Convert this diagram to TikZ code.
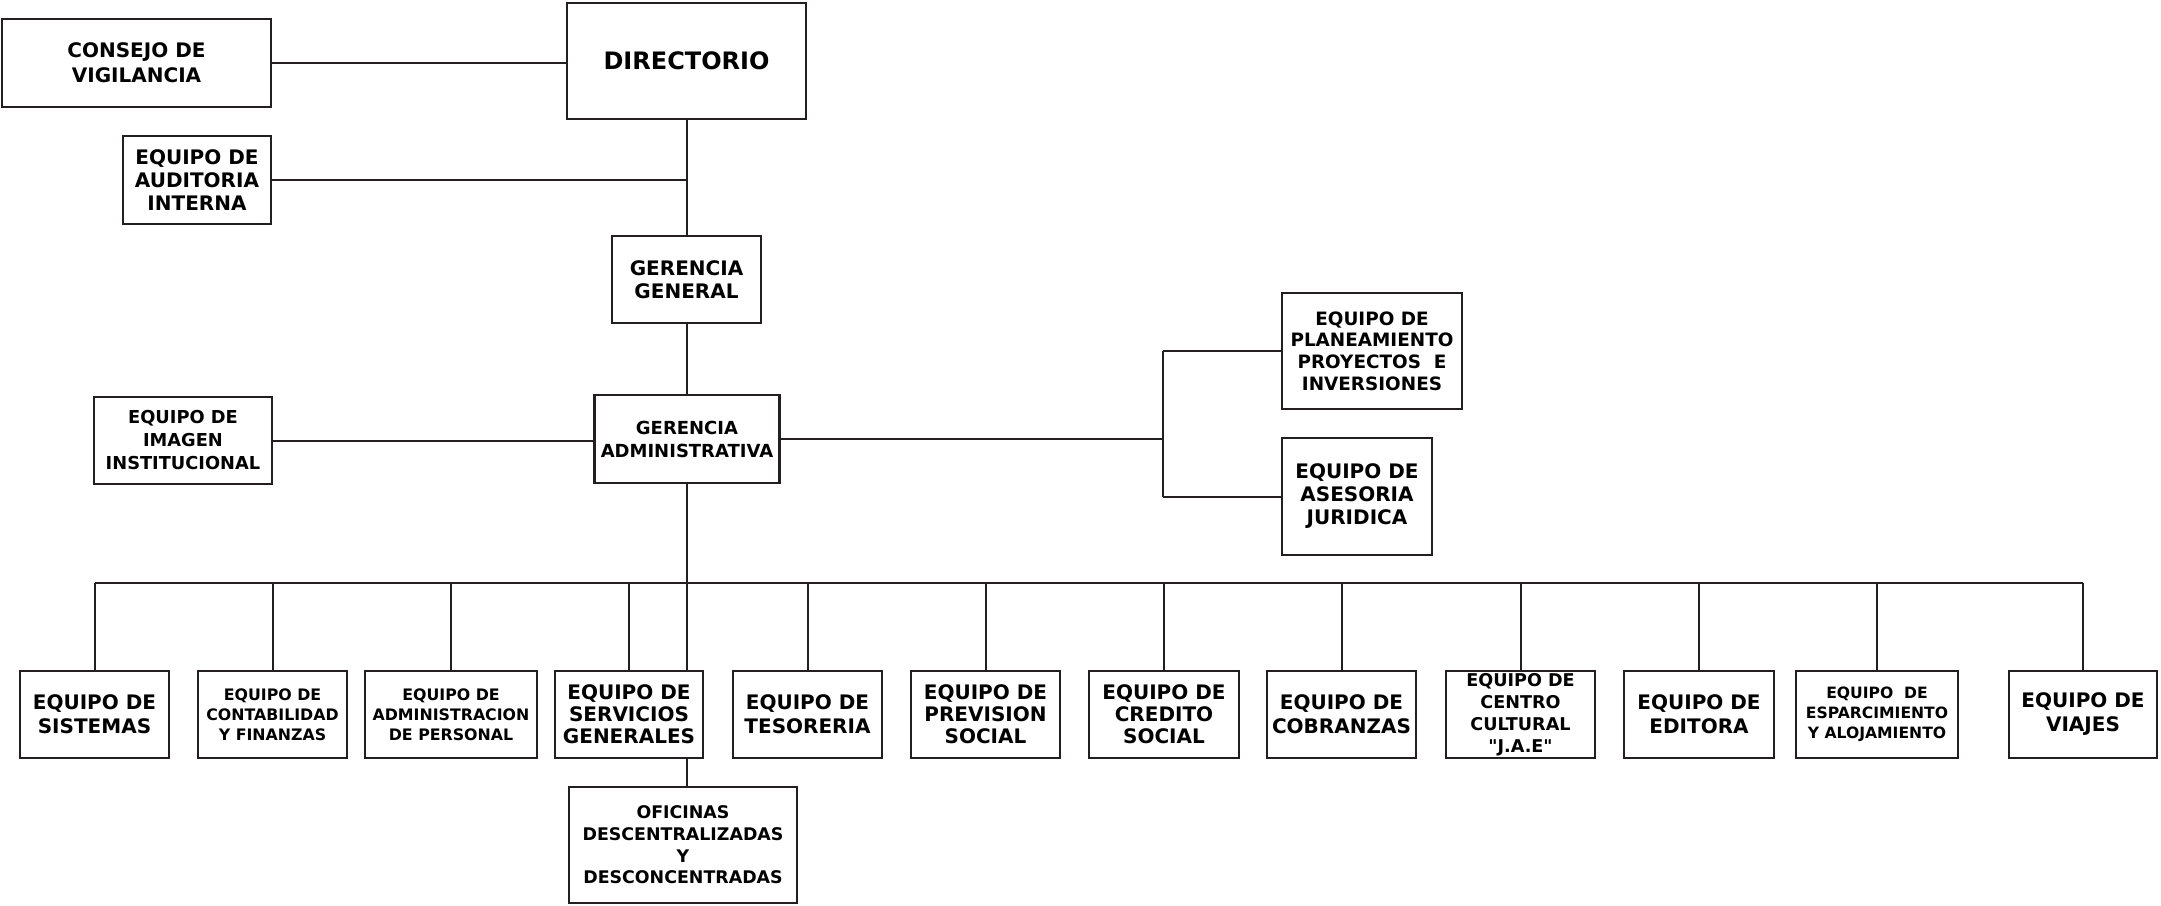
\documentclass[tikz,border=0pt]{standalone}
\usepackage{fontspec}
% plain family: no TeX ligature mapping, so " stays a straight quote
\newfontfamily\orgfont{DejaVu Sans}
\newcommand\fz[2]{\orgfont\bfseries\fontsize{#1}{#2}\selectfont}
\definecolor{ink}{HTML}{231F20}
\begin{document}
\begin{tikzpicture}[x=0.5pt,y=-0.5pt,
  box/.style={draw=ink, line width=1.4pt, inner sep=0pt, align=center, text=black},
  link/.style={draw=ink, line width=1pt}]
\useasboundingbox (0,0) rectangle (2161,905);

% upper levels
\node[box,font=\fz{10}{12.5},minimum width=134.5pt,minimum height=44pt] (consejo) at (136.5,63) {CONSEJO DE\\VIGILANCIA};
\node[box,font=\fz{12}{14},minimum width=119.5pt,minimum height=58pt] (dir) at (686.5,61) {DIRECTORIO};
\node[box,font=\fz{10}{11.5},minimum width=74pt,minimum height=44pt] (audit) at (197,180) {EQUIPO DE\\AUDITORIA\\INTERNA};
\node[box,font=\fz{10}{11.5},minimum width=74.5pt,minimum height=43.5pt] (gg) at (686.5,279.5) {GERENCIA\\GENERAL};
\node[box,font=\fz{8.9}{11.5},minimum width=89pt,minimum height=43.5pt] (imagen) at (183,440.5) {EQUIPO DE\\IMAGEN\\INSTITUCIONAL};
\node[box,font=\fz{9}{11.5},minimum width=92.5pt,minimum height=44pt] (ga) at (687,439) {GERENCIA\\ADMINISTRATIVA};
\node[box,font=\fz{9.2}{10.8},minimum width=90pt,minimum height=58pt] (plan) at (1372,351) {EQUIPO DE\\PLANEAMIENTO\\PROYECTOS\ \ E\\INVERSIONES};
\node[box,font=\fz{10}{11.5},minimum width=75pt,minimum height=58.5pt] (ases) at (1357,496.5) {EQUIPO DE\\ASESORIA\\JURIDICA};

% bottom row
\tikzset{rowbox/.style={box,minimum width=74.5pt,minimum height=43.5pt,font=\fz{10}{11}},
         smallbox/.style={rowbox,font=\fz{7.9}{10}}}
\node[rowbox,font=\fz{10}{12}] (sist) at (94.5,714.5) {EQUIPO DE\\SISTEMAS};
\node[smallbox] (cont) at (272.5,714.5) {EQUIPO DE\\CONTABILIDAD\\Y FINANZAS};
\node[smallbox,minimum width=86pt] (admp) at (451,714.5) {EQUIPO DE\\ADMINISTRACION\\DE PERSONAL};
\node[rowbox,minimum width=74pt] (serv) at (629,714.5) {EQUIPO DE\\SERVICIOS\\GENERALES};
\node[rowbox,font=\fz{10}{12}] (teso) at (807.5,714.5) {EQUIPO DE\\TESORERIA};
\node[rowbox] (prev) at (985.5,714.5) {EQUIPO DE\\PREVISION\\SOCIAL};
\node[rowbox,minimum width=75pt] (cred) at (1164,714.5) {EQUIPO DE\\CREDITO\\SOCIAL};
\node[rowbox,font=\fz{10}{12}] (cobr) at (1341.5,714.5) {EQUIPO DE\\COBRANZAS};
\node[rowbox,font=\fz{8.8}{11}] (cent) at (1520.5,714.5) {EQUIPO DE\\CENTRO\\CULTURAL\\"J.A.E"};
\node[rowbox,font=\fz{10}{12},minimum width=75pt] (edit) at (1699,714.5) {EQUIPO DE\\EDITORA};
\node[smallbox,font=\fz{7.8}{10},minimum width=81pt] (espa) at (1877,714.5) {EQUIPO\ \ DE\\ESPARCIMIENTO\\Y ALOJAMIENTO};
\node[rowbox,font=\fz{10}{12},minimum width=74pt] (viaj) at (2083,714.5) {EQUIPO DE\\VIAJES};
\node[box,font=\fz{8.7}{10.8},minimum width=114pt,minimum height=58pt] (ofi) at (683,845) {OFICINAS\\DESCENTRALIZADAS\\Y\\DESCONCENTRADAS};

% connectors
\coordinate (bus) at (0,583);
\coordinate (split) at (1163,0);
\draw[link] (consejo.east) -- (consejo.east -| dir.west);
\draw[link] (dir.south) -- (gg.north);
\draw[link] (audit.east) -- (audit.east -| dir.south);
\draw[link] (gg.south) -- (gg.south |- ga.north);
\draw[link] (imagen.east) -- (imagen.east -| ga.west);
\draw[link] (ga.east) -- (ga.east -| split);
\draw[link] (plan.west -| split) -- (ases.west -| split);
\draw[link] (plan.west -| split) -- (plan.west);
\draw[link] (ases.west -| split) -- (ases.west);
\draw[link] (ga.south) -- (ga.south |- serv.north);
\draw[link] (sist.north |- bus) -- (viaj.north |- bus);
\foreach \n in {sist,cont,admp,serv,teso,prev,cred,cobr,cent,edit,espa,viaj}
  \draw[link] (\n.north |- bus) -- (\n.north);
\draw[link] (ga.south |- serv.south) -- (ga.south |- ofi.north);
\end{tikzpicture}
\end{document}
